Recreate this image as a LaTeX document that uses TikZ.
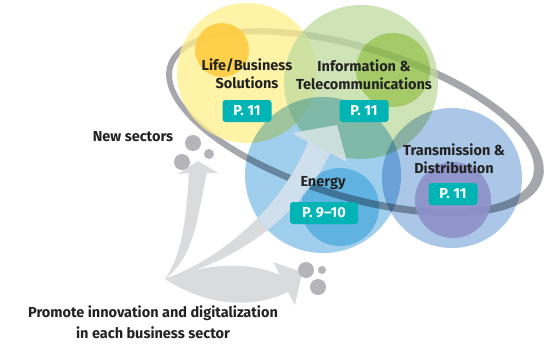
\documentclass[tikz,border=0pt]{standalone}
\usepackage{fontspec}
\setmainfont{Fira Sans}
\usetikzlibrary{backgrounds}

\definecolor{ringgray}{RGB}{166,167,172}
\definecolor{arrowgray}{RGB}{218,219,221}
\definecolor{dotgray}{RGB}{180,180,185}
\definecolor{textgray}{RGB}{35,35,35}
\definecolor{pageteal}{RGB}{0,180,182}
\definecolor{lifeyellow}{RGB}{255,240,139}
\definecolor{lifeorange}{RGB}{254,204,65}
\definecolor{infogreen}{RGB}{191,220,158}
\definecolor{infodark}{RGB}{203,228,147}
\definecolor{energyblue}{RGB}{160,207,237}
\definecolor{energydark}{RGB}{153,220,243}
\definecolor{gridblue}{RGB}{170,199,231}
\definecolor{gridpurple}{RGB}{142,145,202}

\begin{document}
\begin{tikzpicture}[
    x=1pt, y=-1pt,
    show background rectangle,
    tight background=0,
    background rectangle/.style={fill=white},
    sector/.style={font=\bfseries\fontsize{14.5}{18}\selectfont, text=textgray, align=center},
    page/.style={fill=pageteal, rounded corners=3, text=white, inner sep=0,
        font=\bfseries\fontsize{14.5}{14.5}\selectfont, minimum width=49, minimum height=22},
    bubble/.style={fill=dotgray},
    wide/.style={fill=arrowgray},
 ]
    \useasboundingbox (0,0) rectangle (557,343);

    \fill[ringgray, even odd rule, rotate around={-17:(354,122)}]
        (355,122) ellipse [x radius=196, y radius=78]
        (353,122) ellipse [x radius=188, y radius=71];

    \fill[wide] (165,279) .. controls (182,255) and (186,220) .. (189,173)
        -- (178,174) -- (198,161) -- (218,173) -- (207,173)
        .. controls (197,215) and (196,255) .. (165,279);
    \fill[wide] (165,279) .. controls (230,255) and (285,200) .. (308,142)
        -- (292,133) -- (337,125) -- (347,162) -- (330,153)
        .. controls (305,210) and (240,262) .. (165,279);
    \fill[wide] (165,279) .. controls (210,262) and (250,262) .. (280,275)
        -- (273,262) -- (302,272) -- (295,305) -- (288,292)
        .. controls (250,310) and (205,305) .. (165,279);

    \fill[lifeyellow, fill opacity=0.75] (247,73) circle (70);
    \fill[lifeorange, fill opacity=0.9] (222,50) circle (27);
    \fill[infogreen, fill opacity=0.75] (361,82) circle (77);
    \begin{scope}[blend mode=multiply]
        \fill[infodark] (393,70) circle (37);
        \fill[energyblue] (323,175) circle (78);
        \fill[energydark] (340,207) circle (39);
        \fill[gridblue] (452,178) circle (70);
    \end{scope}
    \fill[gridpurple, fill opacity=0.9] (453,200) circle (38);

    \begin{scope}
        \clip (247,73) circle (70) (361,82) circle (77)
            (323,175) circle (78) (452,178) circle (70);
        \fill[white, fill opacity=0.6] (165,279) .. controls (230,255) and (285,200) .. (308,142)
            -- (292,133) -- (337,125) -- (347,162) -- (330,153)
            .. controls (305,210) and (240,262) .. (165,279);
    \end{scope}

    \fill[bubble] (193,143) circle (8) (182,162) circle (8) (209,154) circle (5);
    \fill[bubble] (306,270) circle (8) (322,270) circle (4) (318,287) circle (8);

    \node[sector] (LB) at (247,74) {Life/Business\\Solutions};
    \node[page] (LBp) at (247,111) {P. 11};
    \node[sector] (IT) at (364,75) {Information \&\\Telecommunications};
    \node[page] (ITp) at (364,111) {P. 11};
    \node[sector] (EN) at (323,183) {Energy};
    \node[page, minimum width=68] (ENp) at (324,213) {P. 9--10};
    \node[sector] (TD) at (454,159) {Transmission \&\\Distribution};
    \node[page] (TDp) at (453,194) {P. 11};
    \node[sector] (NS) at (133,137) {New sectors};
    \node[sector, font=\bfseries\fontsize{14.5}{21}\selectfont] (PI) at (153,322)
        {Promote innovation and digitalization\\in each business sector};
\end{tikzpicture}
\end{document}
